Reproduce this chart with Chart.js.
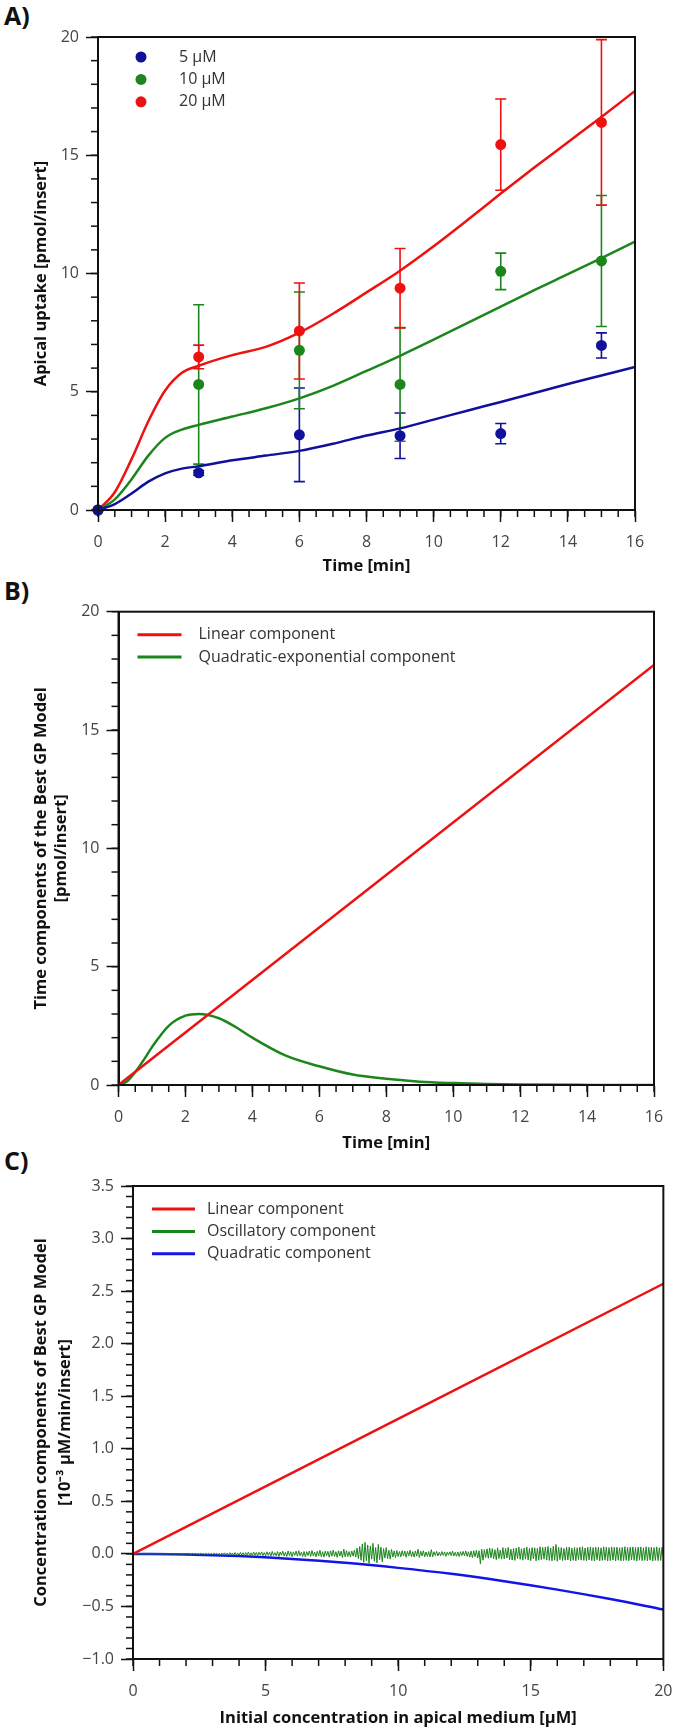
<!DOCTYPE html>
<html>
<head>
<meta charset="utf-8">
<script src="https://cdn.jsdelivr.net/npm/chart.js@4/dist/chart.umd.min.js"></script>
<style>
  body { margin: 0; background: #fff; width: 683px; height: 1732px; position: relative; overflow: hidden; }
  canvas { position: absolute; left: 0; }
  .panel-lbl { position: absolute; left: 4px; font: bold 25px/25px 'Open Sans', sans-serif; color: #111; }
</style>
</head>
<body>
<div class="panel-lbl" style="top:3px">A)</div>
<div class="panel-lbl" style="top:578px">B)</div>
<div class="panel-lbl" style="top:1148px">C)</div>
<canvas id="chart-a" width="683" height="585" style="top:0"></canvas>
<canvas id="chart-b" width="683" height="570" style="top:590px"></canvas>
<canvas id="chart-c" width="683" height="567" style="top:1165px"></canvas>
<script>
/* =================================================
   DATA
================================================= */
// A) measured uptake (mean / sd) at each sampling time
const sampleTimes = [0, 3, 6, 9, 12, 15];
const mean5  = [0, 1.57, 3.18, 3.14, 3.23, 6.96];
const sd5    = [0, 0.10, 1.98, 0.96, 0.43, 0.53];
const mean10 = [0, 5.31, 6.75, 5.31, 10.09, 10.53];
const sd10   = [0, 3.37, 2.47, 2.40, 0.77, 2.77];
const mean20 = [0, 6.47, 7.57, 9.38, 15.45, 16.39];
const sd20   = [0, 0.50, 2.03, 1.68, 1.93, 3.50];

// A) model curves
const fitTimes = [0, 0.5, 1, 1.5, 2, 2.5, 3, 4, 5, 6, 7, 8, 9, 10, 11, 12, 13, 14, 15, 16];
const fit5  = [0, 0.25, 0.70, 1.20, 1.55, 1.75, 1.85, 2.10, 2.30, 2.50, 2.80, 3.15, 3.45, 3.82, 4.20, 4.57, 4.95, 5.33, 5.69, 6.05];
const fit10 = [0, 0.45, 1.30, 2.30, 3.05, 3.40, 3.60, 3.95, 4.30, 4.72, 5.25, 5.88, 6.52, 7.20, 7.90, 8.60, 9.30, 9.97, 10.65, 11.35];
const fit20 = [0, 0.75, 2.15, 3.75, 5.05, 5.80, 6.10, 6.55, 6.90, 7.50, 8.30, 9.20, 10.12, 11.15, 12.25, 13.38, 14.48, 15.55, 16.62, 17.72];

// B) time components
const linTimeX = [0, 16];
const linTimeY = [0, 17.75];
const qexpX = [0, 0.25, 0.5, 0.75, 1, 1.5, 2, 2.4, 3, 3.5, 4, 5, 6, 7, 8, 9, 10, 11, 12, 14, 16];
const qexpY = [0, 0.15, 0.55, 1.05, 1.60, 2.50, 2.93, 3.00, 2.82, 2.45, 2.00, 1.24, 0.79, 0.44, 0.26, 0.14, 0.08, 0.04, 0.02, 0.005, 0];

// C) concentration components
const linConcX = [0, 20];
const linConcY = [0, 2.57];
const quadX = [0, 2, 4, 6, 8, 10, 12, 14, 16, 18, 20];
const quadY = [0, -0.005, -0.021, -0.048, -0.085, -0.133, -0.19, -0.26, -0.34, -0.43, -0.53];
const oscStep = 0.05;
const oscY = [
  // 0 - 3
  0, 0.001, -0.001, 0.002, -0.001, 0.001, -0.002, 0.001, -0.001, 0.002,
  -0.002, 0.001, -0.001, 0.002, -0.002, 0.003, -0.001, 0.002, -0.003, 0.002,
  -0.002, 0.003, -0.002, 0.001, -0.003, 0.003, -0.002, 0.004, -0.003, 0.002,
  -0.003, 0.004, -0.002, 0.003, -0.004, 0.003, -0.003, 0.004, -0.004, 0.003,
  -0.004, 0.005, -0.003, 0.004, -0.005, 0.004, -0.004, 0.005, -0.005, 0.004,
  -0.005, 0.006, -0.004, 0.005, -0.006, 0.005, -0.005, 0.007, -0.006, 0.005,
  -0.006,
  // 3 - 5
  0.007, -0.005, 0.008, -0.007, 0.006, -0.009, 0.008, -0.006, 0.010, -0.008,
  0.007, -0.010, 0.012, -0.008, 0.009, -0.011, 0.013, -0.009, 0.008, -0.012,
  0.014, -0.010, 0.011, -0.015, 0.012, -0.009, 0.016, -0.013, 0.010, -0.014,
  0.018, -0.012, 0.013, -0.017, 0.015, -0.011, 0.019, -0.016, 0.012, -0.018,
  // 5 - 8
  0.020, -0.014, 0.016, -0.021, 0.024, -0.015, 0.012, -0.019, 0.022, -0.026,
  0.018, -0.013, 0.025, -0.020, 0.015, -0.024, 0.028, -0.017, 0.021, -0.027,
  0.019, -0.014, 0.026, -0.022, 0.030, -0.018, 0.016, -0.025, 0.023, -0.029,
  0.021, -0.016, 0.027, -0.024, 0.032, -0.019, 0.018, -0.028, 0.025, -0.021,
  0.034, -0.026, 0.020, -0.030, 0.027, -0.018, 0.024, -0.031, 0.029, -0.022,
  0.036, -0.025, 0.021, -0.033, 0.030, -0.020, 0.026, -0.034, 0.045, -0.028,
  // 8 - 10
  0.030, -0.024, 0.022, -0.030, 0.028, -0.021, 0.035, -0.030, 0.055, -0.045,
  0.070, -0.060, 0.095, -0.080, 0.110, -0.065, 0.085, -0.090, 0.075, -0.050,
  0.100, -0.070, 0.060, -0.085, 0.090, -0.055, 0.065, -0.075, 0.050, -0.040,
  0.060, -0.045, 0.035, -0.050, 0.042, -0.030, 0.028, -0.036, 0.032, -0.025,
  // 10 - 13
  0.022, -0.028, 0.030, -0.020, 0.026, -0.032, 0.024, -0.018, 0.035, -0.026,
  0.021, -0.030, 0.028, -0.022, 0.045, -0.034, 0.025, -0.020, 0.030, -0.027,
  0.018, -0.024, 0.022, -0.030, 0.040, -0.028, 0.020, -0.016, 0.024, -0.020,
  0.015, -0.018, 0.022, -0.014, 0.019, -0.023, 0.016, -0.012, 0.020, -0.017,
  0.026, -0.020, 0.015, -0.022, 0.018, -0.025, 0.021, -0.016, 0.024, -0.019,
  0.028, -0.024, 0.020, -0.030, 0.026, -0.035, 0.030, -0.028, 0.034, -0.040,
  // 13 - 16
  0.030, -0.095, 0.045, -0.060, 0.040, -0.035, 0.048, -0.042, 0.055, -0.038,
  0.050, -0.046, 0.040, -0.055, 0.058, -0.044, 0.036, -0.050, 0.060, -0.048,
  0.052, -0.040, 0.062, -0.055, 0.045, -0.058, 0.050, -0.062, 0.056, -0.045,
  0.064, -0.052, 0.048, -0.060, 0.055, -0.050, 0.066, -0.058, 0.052, -0.064,
  0.060, -0.048, 0.058, -0.066, 0.054, -0.060, 0.068, -0.055, 0.062, -0.050,
  0.065, -0.058, 0.070, -0.062, 0.056, -0.066, 0.072, -0.060, 0.090, -0.070,
  // 16 - 20
  0.062, -0.055, 0.060, -0.064, 0.052, -0.060, 0.066, -0.058, 0.064, -0.068,
  0.055, -0.062, 0.060, -0.066, 0.058, -0.054, 0.064, -0.060, 0.068, -0.062,
  0.056, -0.066, 0.062, -0.058, 0.066, -0.064, 0.060, -0.068, 0.064, -0.056,
  0.062, -0.066, 0.058, -0.062, 0.068, -0.060, 0.064, -0.066, 0.060, -0.064,
  0.066, -0.058, 0.062, -0.068, 0.064, -0.060, 0.058, -0.066, 0.062, -0.064,
  0.068, -0.062, 0.060, -0.066, 0.064, -0.058, 0.066, -0.062, 0.060, -0.068,
  0.064, -0.060, 0.066, -0.064, 0.058, -0.062, 0.068, -0.066, 0.062, -0.060,
  0.064, -0.068, 0.060, -0.062, 0.066, -0.064, 0.058, -0.062, 0.064, -0.030
];

const RED = '#ee1111', GREEN = '#1c861c', NAVY = '#10109a', BLUE = '#1414e6';
const TICK_FONT = { family: "'Open Sans', sans-serif", size: 16 };

Chart.defaults.font.family = "'Open Sans', sans-serif";

/* =================================================
   PLUGINS
================================================= */
const pts = (xs, ys) => xs.map((x, i) => ({ x, y: ys[i] }));

// minor ticks + box frame around the plot
const frameTicks = {
  id: 'frameTicks',
  afterDraw(chart, args, opts) {
    const { ctx, chartArea: a } = chart;
    ctx.save();
    ctx.strokeStyle = '#111';
    ctx.lineWidth = 1.5;
    ['x', 'y'].forEach(k => {
      const s = chart.scales[k];
      const step = opts[k];
      const n = Math.round((s.max - s.min) / step);
      for (let i = 0; i <= n; i++) {
        const p = s.getPixelForValue(s.min + i * step);
        ctx.beginPath();
        if (k === 'x') { ctx.moveTo(p, a.bottom); ctx.lineTo(p, a.bottom + opts.len); }
        else { ctx.moveTo(a.left, p); ctx.lineTo(a.left - opts.len, p); }
        ctx.stroke();
      }
    });
    ctx.lineWidth = 2;
    ctx.strokeRect(a.left, a.top, a.width, a.height);
    ctx.restore();
  }
};

// vertical error bars with caps
const errorBars = {
  id: 'errorBars',
  beforeDatasetsDraw(chart) {
    const { ctx, scales: { x, y } } = chart;
    ctx.save();
    chart.data.datasets.forEach(ds => {
      if (!ds.sd) return;
      ctx.strokeStyle = ds.backgroundColor;
      ctx.lineWidth = 1.6;
      ds.data.forEach((p, i) => {
        if (!ds.sd[i]) return;
        const px = x.getPixelForValue(p.x);
        const top = y.getPixelForValue(p.y + ds.sd[i]);
        const bot = y.getPixelForValue(p.y - ds.sd[i]);
        ctx.beginPath();
        ctx.moveTo(px, top); ctx.lineTo(px, bot);
        ctx.moveTo(px - 5.5, top); ctx.lineTo(px + 5.5, top);
        ctx.moveTo(px - 5.5, bot); ctx.lineTo(px + 5.5, bot);
        ctx.stroke();
      });
    });
    ctx.restore();
  }
};

// legend drawn inside the plot, top-left
const insideLegend = {
  id: 'insideLegend',
  afterDraw(chart, args, opts) {
    const { ctx, chartArea: a } = chart;
    const items = chart.data.datasets.filter(d => d.legendLabel);
    ctx.save();
    ctx.font = "16px 'Open Sans', sans-serif";
    ctx.textBaseline = 'middle';
    items.forEach((d, i) => {
      const y = a.top + opts.top + i * opts.gap;
      const x = a.left + opts.left;
      if (opts.dots) {
        ctx.fillStyle = d.backgroundColor;
        ctx.beginPath(); ctx.arc(x, y, 5.5, 0, Math.PI * 2); ctx.fill();
      } else {
        ctx.strokeStyle = d.borderColor;
        ctx.lineWidth = 3;
        ctx.beginPath(); ctx.moveTo(x, y); ctx.lineTo(x + opts.len, y); ctx.stroke();
      }
      ctx.fillStyle = '#333';
      ctx.fillText(d.legendLabel, a.left + opts.textLeft, y);
    });
    ctx.restore();
  }
};

/* =================================================
   CHART BUILDER
================================================= */
function buildPanel(id, cfg) {
  const el = document.getElementById(id);
  const H = el.height;
  const box = cfg.plot;
  const axis = (ax, isX) => ({
    type: 'linear', min: ax.min, max: ax.max,
    ticks: {
      stepSize: ax.major, autoSkip: false, padding: isX ? 10.5 : 7,
      font: TICK_FONT, color: '#444', maxRotation: 0,
      callback: ax.fmt || (v => String(v))
    },
    grid: { drawOnChartArea: false, tickLength: 12, tickWidth: 1.5, tickColor: '#111' },
    border: { color: '#111', width: 2 },
    title: {
      display: true, text: ax.title, color: '#111',
      font: { size: 16.5, weight: 'bold', lineHeight: ax.lineHeight || 1.2 },
      padding: ax.titlePad
    },
    afterFit: s => { if (isX) s.height = H - box.bottom; else s.width = box.left; }
  });
  return new Chart(el, {
    type: 'line',
    data: { datasets: cfg.datasets },
    options: {
      responsive: false, animation: false,
      layout: { padding: { left: 0, top: box.top, right: 683 - box.right, bottom: 0 } },
      plugins: {
        legend: { display: false }, tooltip: { enabled: false },
        frameTicks: { x: cfg.x.minor, y: cfg.y.minor, len: 7 },
        insideLegend: cfg.legend
      },
      scales: { x: axis(cfg.x, true), y: axis(cfg.y, false) }
    },
    plugins: [frameTicks, errorBars, insideLegend]
  });
}

const curve = (data, color, width) => ({
  type: 'line', data, borderColor: color, borderWidth: width || 2.5,
  pointRadius: 0, cubicInterpolationMode: 'monotone', fill: false
});
const dots = (label, means, sd, color) => ({
  type: 'scatter', legendLabel: label, data: pts(sampleTimes, means), sd,
  backgroundColor: color, borderWidth: 0, pointRadius: 5.5, clip: false
});

// A)
buildPanel('chart-a', {
  plot: { left: 98, top: 37, right: 635, bottom: 510 },
  x: { min: 0, max: 16, major: 2, minor: 0.5, title: 'Time [min]', titlePad: { bottom: 9 } },
  y: { min: 0, max: 20, major: 5, minor: 1, title: 'Apical uptake [pmol/insert]', titlePad: { top: 31.7 } },
  legend: { dots: true, left: 43, top: 20, gap: 22.4, textLeft: 81 },
  datasets: [
    dots('5 µM', mean5, sd5, NAVY),
    dots('10 µM', mean10, sd10, GREEN),
    dots('20 µM', mean20, sd20, RED),
    curve(pts(fitTimes, fit5), NAVY),
    curve(pts(fitTimes, fit10), GREEN),
    curve(pts(fitTimes, fit20), RED)
  ]
});

// B)
buildPanel('chart-b', {
  plot: { left: 118.5, top: 21.7, right: 654, bottom: 495 },
  x: { min: 0, max: 16, major: 2, minor: 0.5, title: 'Time [min]', titlePad: { bottom: 7 } },
  y: { min: 0, max: 20, major: 5, minor: 1, title: ['Time components of the Best GP Model', '[pmol/insert]'], lineHeight: 1.212, titlePad: { top: 31 } },
  legend: { dots: false, left: 19, top: 23, gap: 22.3, len: 44, textLeft: 80 },
  datasets: [
    Object.assign(curve(pts(linTimeX, linTimeY), RED), { legendLabel: 'Linear component' }),
    Object.assign(curve(pts(qexpX, qexpY), GREEN), { legendLabel: 'Quadratic-exponential component' })
  ]
});

// C)
const fmtC = v => v.toFixed(1).replace('-', '\u2212');
buildPanel('chart-c', {
  plot: { left: 133, top: 21, right: 672, bottom: 494 },
  x: { min: 0, max: 20, major: 5, minor: 1, title: 'Initial concentration in apical medium [µM]', titlePad: { bottom: 4 } },
  y: { min: -1, max: 3.5, major: 0.5, minor: 0.1, fmt: fmtC, title: ['Concentration components of Best GP Model', '[10\u207B\u00B3 µM/min/insert]'], lineHeight: 1.455, titlePad: { top: 29.5 } },
  legend: { dots: false, left: 19, top: 23, gap: 22.4, len: 43, textLeft: 74 },
  datasets: [
    Object.assign(curve(pts(linConcX, linConcY), RED), { legendLabel: 'Linear component' }),
    Object.assign(curve(oscY.map((v, i) => ({ x: i * oscStep, y: v })), GREEN, 1), { legendLabel: 'Oscillatory component', cubicInterpolationMode: 'default', tension: 0 }),
    Object.assign(curve(pts(quadX, quadY), BLUE), { legendLabel: 'Quadratic component' })
  ]
});
</script>
</body>
</html>
